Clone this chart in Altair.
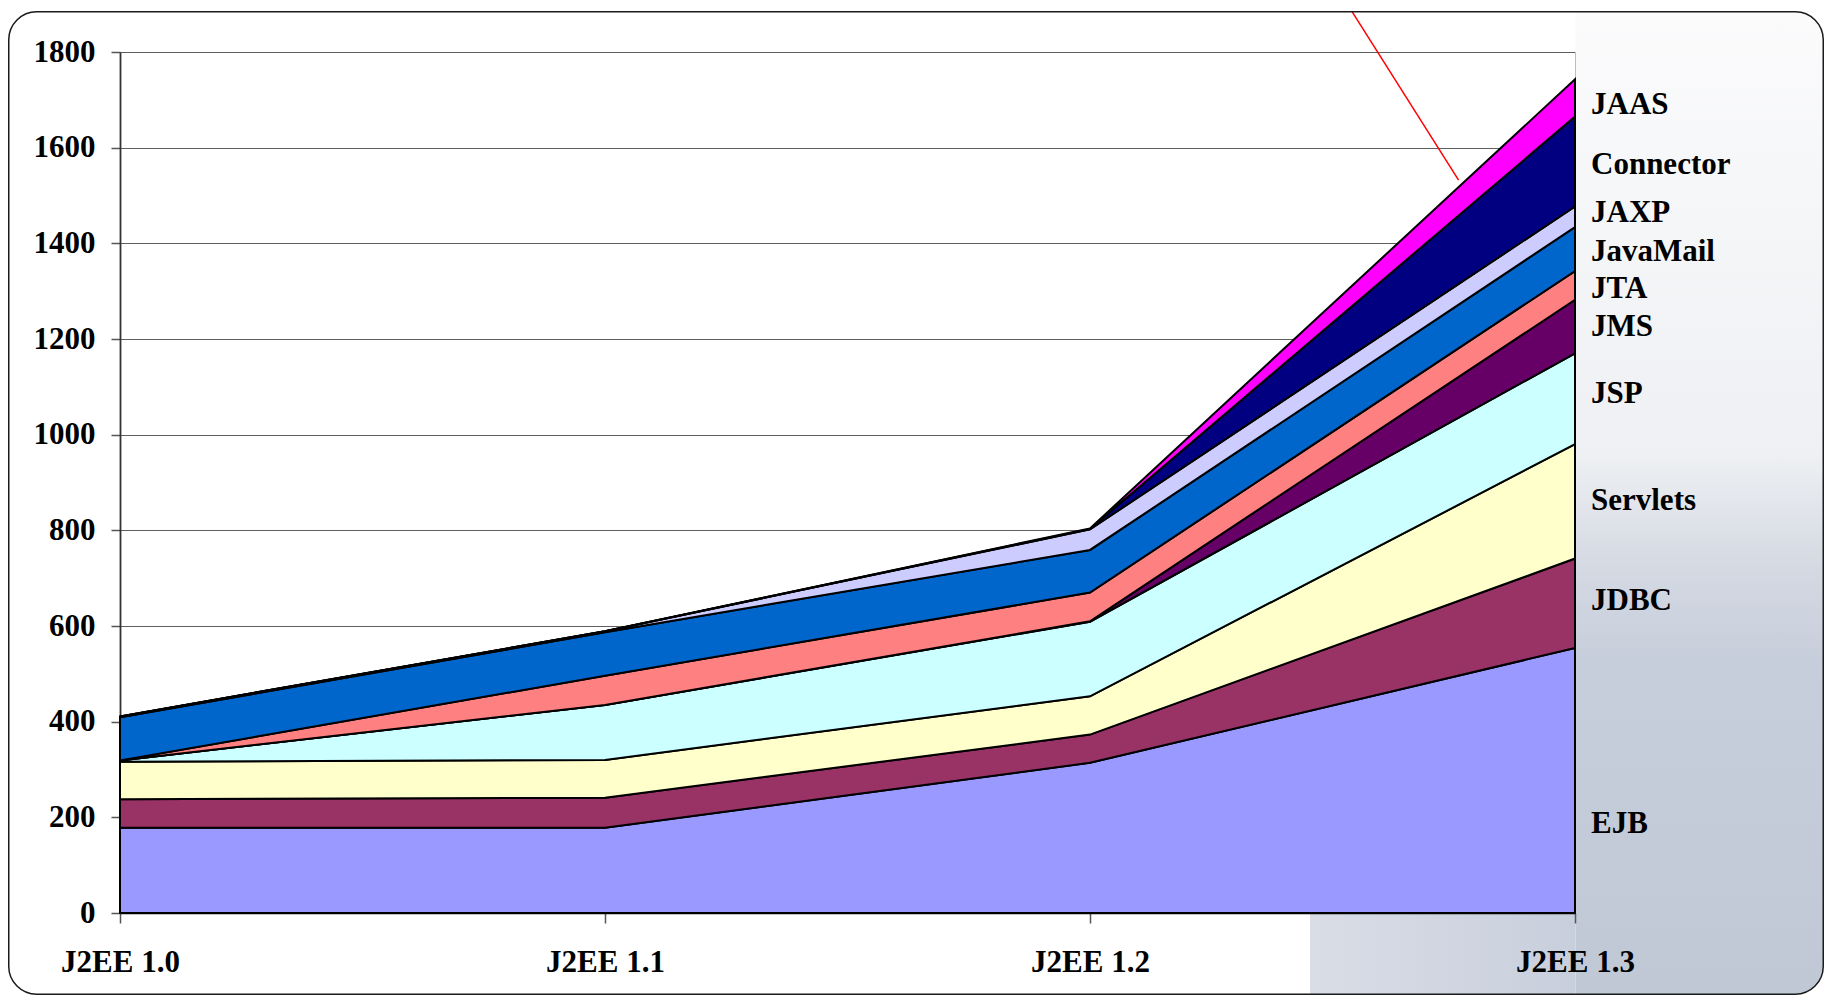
import json
import altair as alt
import pandas as pd

# ---------------- data ----------------
categories = ["J2EE 1.0", "J2EE 1.1", "J2EE 1.2", "J2EE 1.3"]
series_names = ["EJB", "JDBC", "Servlets", "JSP", "JMS", "JTA",
                "JavaMail", "JAXP", "Connector", "JAAS"]
series_colors = ["#9999FF", "#993366", "#FFFFCC", "#CCFFFF", "#660066",
                 "#FF8080", "#0066CC", "#CCCCFF", "#000080", "#FF00FF"]

ejb = [178, 178, 314, 554]
jdbc = [60, 63, 59, 187]
servlets = [78, 79, 80, 239]
jsp = [3, 115, 156, 190]
jms = [0, 0, 1, 112]
jta = [0, 61, 60, 60]
javamail = [90, 91, 89, 92]
jaxp = [2, 2, 43, 43]
connector = [0, 0, 1, 188]
jaas = [0, 0, 1, 78]

# vertical anchor (in data units) of each series label at the right
label_values = [186, 652, 861, 1084, 1225, 1305, 1382, 1464, 1563, 1690]
y_ticks = [0, 200, 400, 600, 800, 1000, 1200, 1400, 1600, 1800]

# red pointer line (data coordinates)
pointer_x = [2.54, 2.76]
pointer_y = [1885, 1532]

series_values = [ejb, jdbc, servlets, jsp, jms, jta, javamail, jaxp, connector, jaas]

rows = []
for k, (name, vals) in enumerate(zip(series_names, series_values)):
    for i, v in enumerate(vals):
        rows.append({"idx": i, "value": v, "series": name, "ord": k})
df = pd.DataFrame(rows)

W, H = 1455, 861
FONT = "Liberation Serif"

xscale = alt.Scale(domain=[0, 3], nice=False, zero=False)
yscale = alt.Scale(domain=[0, 1800], nice=False)

x_axis = alt.Axis(values=[0, 1, 2, 3], labelExpr=f"{json.dumps(categories)}[datum.value]",
                  title=None, grid=False, tickSize=10, tickColor="#555555", tickWidth=1.5,
                  domainColor="#000000", domainWidth=1.5, labelPadding=24,
                  labelFlush=False, labelOverlap=False, zindex=1)
y_axis = alt.Axis(values=y_ticks, format="d", title=None, grid=True, gridColor="#5f5f5f",
                  gridWidth=1, tickSize=9, tickColor="#555555", tickWidth=1.5,
                  domainColor="#333333", domainWidth=1.8, labelPadding=16)

areas = alt.Chart(df).mark_area(stroke="black", strokeWidth=2, interpolate="linear").encode(
    x=alt.X("idx:Q", scale=xscale, axis=x_axis),
    y=alt.Y("value:Q", stack="zero", scale=yscale, axis=y_axis),
    color=alt.Color("series:N", scale=alt.Scale(domain=series_names, range=series_colors), legend=None),
    order=alt.Order("ord:Q"),
)

pointer = alt.Chart(pd.DataFrame({"x": pointer_x, "y": pointer_y})).mark_line(
    color="#ff0000", strokeWidth=1.5, clip=False
).encode(
    x=alt.X("x:Q", scale=xscale),
    y=alt.Y("y:Q", scale=yscale),
)

labels = alt.Chart(pd.DataFrame({"name": series_names, "pos": label_values})).mark_text(
    align="left", baseline="middle", dx=16, font=FONT, fontWeight="bold", fontSize=31, color="black"
).encode(
    x=alt.datum(3, scale=xscale),
    y=alt.Y("pos:Q", scale=yscale),
    text="name:N",
)

one = pd.DataFrame({"a": [0]})

grad_right = alt.Gradient(
    gradient="linear", x1=0, x2=0, y1=0, y2=1,
    stops=[alt.GradientStop(offset=0, color="#fbfbfc"),
           alt.GradientStop(offset=0.45, color="#eef0f3"),
           alt.GradientStop(offset=0.56, color="#d5dae3"),
           alt.GradientStop(offset=0.66, color="#c7cedb"),
           alt.GradientStop(offset=1, color="#c0c8d6")],
)
bg_right = alt.Chart(one).mark_rect(fill=grad_right, cornerRadiusTopRight=27,
                                    cornerRadiusBottomRight=27).encode(
    x=alt.value(W + 0.5), x2=alt.value(1703), y=alt.value(-40), y2=alt.value(942)
)
grad_bottom = alt.Gradient(
    gradient="linear", x1=0, x2=1, y1=0, y2=0,
    stops=[alt.GradientStop(offset=0, color="#d9dde6"),
           alt.GradientStop(offset=1, color="#c8cfdc")],
)
bg_bottom = alt.Chart(one).mark_rect(fill=grad_bottom).encode(
    x=alt.value(1190), x2=alt.value(W + 0.5), y=alt.value(H + 1), y2=alt.value(942)
)

border = alt.Chart(one).mark_rect(fillOpacity=0, stroke="#1a1a1a", strokeWidth=1.5,
                                  cornerRadius=28).encode(
    x=alt.value(-111.25), x2=alt.value(1703.25), y=alt.value(-40.25), y2=alt.value(942.25)
)

chart = alt.layer(bg_right, bg_bottom, areas, pointer, labels, border).properties(
    width=W, height=H, padding=0, background="white"
).configure_view(
    stroke="#808080", strokeWidth=1
).configure_axis(
    labelFont=FONT, labelFontWeight="bold", labelFontSize=31, labelColor="black"
)

chart.save("out.html", embed_options={"renderer": "svg", "actions": False})
